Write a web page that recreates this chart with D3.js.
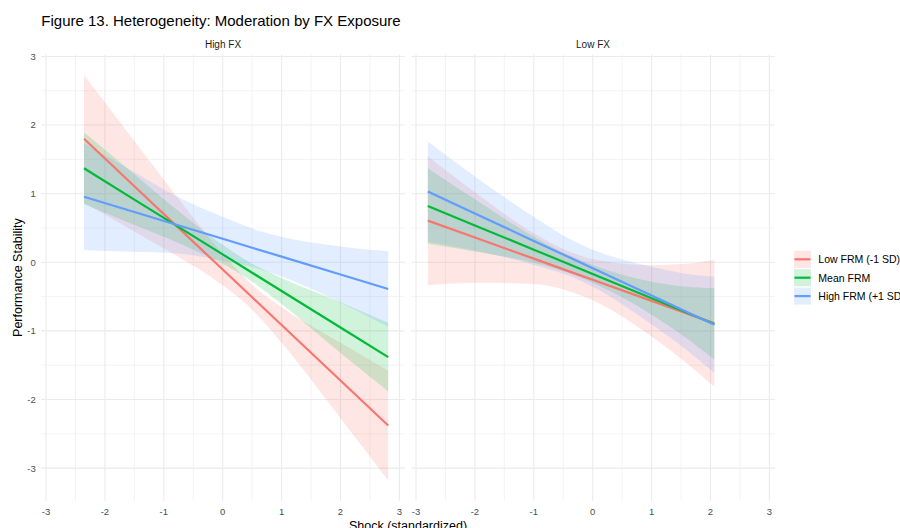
<!DOCTYPE html>
<html lang="en">
<head>
<meta charset="UTF-8">
<title>Figure 13. Heterogeneity</title>
<style>
  body { margin: 0; background: #fff; }
  svg { display: block; font-family: "Liberation Sans", Arial, sans-serif; }
  .tick-label { fill: #4d4d4d; font-size: 9.5px; }
</style>
</head>
<body>
<svg width="900" height="528"></svg>

<script src="https://cdn.jsdelivr.net/npm/d3@7/dist/d3.min.js"></script>
<script>

  // ---- data ----
  var panels = ['High FX', 'Low FX'];
  var groups = ['Low FRM (-1 SD)', 'Mean FRM', 'High FRM (+1 SD)'];
  var groupColors = ['#F8766D', '#00BA38', '#619CFF'];
  var xTicks = [-3, -2, -1, 0, 1, 2, 3];
  var yTicks = [-3, -2, -1, 0, 1, 2, 3];

  // High FX panel
  var highShock = [-2.355, -1.5, -0.8, 0, 0.5, 1, 2, 2.81];
  var highFit = [
    [1.80, 1.108, 0.542, -0.105, -0.51, -0.914, -1.723, -2.38],
    [1.37, 0.914, 0.541, 0.115, -0.152, -0.418, -0.951, -1.383],
    [0.956, 0.733, 0.551, 0.342, 0.212, 0.082, -0.179, -0.39]
  ];
  var highLower = [
    [0.87, 0.448, 0.102, -0.335, -0.69, -1.174, -2.273, -3.18],
    [0.845, 0.544, 0.301, -0.025, -0.282, -0.608, -1.321, -1.883],
    [0.176, 0.153, 0.131, 0.022, -0.068, -0.208, -0.589, -0.94]
  ];
  var highUpper = [
    [2.73, 1.768, 0.982, 0.125, -0.33, -0.654, -1.173, -1.58],
    [1.895, 1.284, 0.781, 0.255, -0.022, -0.228, -0.581, -0.883],
    [1.736, 1.313, 0.971, 0.662, 0.492, 0.372, 0.231, 0.16]
  ];

  // Low FX panel
  var lowShock = [-2.8, -2, -1, -0.4, 0, 1, 1.5, 2.065];
  var lowFit = [
    [0.607, 0.361, 0.053, -0.132, -0.255, -0.562, -0.716, -0.89],
    [0.82, 0.537, 0.184, -0.028, -0.17, -0.523, -0.70, -0.90],
    [1.03, 0.711, 0.312, 0.073, -0.087, -0.485, -0.685, -0.91]
  ];
  var lowLower = [
    [-0.333, -0.299, -0.317, -0.422, -0.555, -1.082, -1.406, -1.815],
    [0.27, 0.157, -0.006, -0.158, -0.30, -0.763, -1.05, -1.42],
    [0.30, 0.171, -0.038, -0.197, -0.357, -0.905, -1.215, -1.61]
  ];
  var lowUpper = [
    [1.547, 1.021, 0.423, 0.158, 0.045, -0.042, -0.026, 0.035],
    [1.37, 0.917, 0.374, 0.102, -0.04, -0.283, -0.35, -0.38],
    [1.76, 1.251, 0.662, 0.343, 0.183, -0.065, -0.155, -0.21]
  ];

  var panelData = [
    {shock: highShock, fit: highFit, lower: highLower, upper: highUpper},
    {shock: lowShock, fit: lowFit, lower: lowLower, upper: lowUpper}
  ];

  // ---- layout ----
  var svg = d3.select('svg');
  var panelTop = 54.4, panelBottom = 500.7;
  var panelLeft = [41.3, 411.3];
  var panelWidth = 363.4;

  var y = d3.scaleLinear().domain([-3.475, 3.03]).range([panelBottom, panelTop]);

  var translate = function(x, y) { return 'translate(' + x + ',' + y + ')'; };
  var halves = function(ticks) {
    return ticks.slice(0, -1).map(function(t) { return t + 0.5; });
  };

  panels.forEach(function(name, p) {
    var x = d3.scaleLinear().domain([-3.08, 3.09]).range([0, panelWidth]);
    var g = svg.append('g').attr('transform', translate(panelLeft[p], 0));
    var d = panelData[p];

    // minor grid
    g.selectAll('.vminor').data(halves(xTicks)).enter().append('line')
      .attr('x1', x).attr('x2', x).attr('y1', panelTop).attr('y2', panelBottom)
      .attr('stroke', '#ebebeb').attr('stroke-width', 0.6);
    g.selectAll('.hminor').data(halves(yTicks)).enter().append('line')
      .attr('x1', 0).attr('x2', panelWidth).attr('y1', y).attr('y2', y)
      .attr('stroke', '#ebebeb').attr('stroke-width', 0.6);
    // major grid
    g.selectAll('.vmajor').data(xTicks).enter().append('line')
      .attr('x1', x).attr('x2', x).attr('y1', panelTop).attr('y2', panelBottom)
      .attr('stroke', '#ebebeb').attr('stroke-width', 1.1);
    g.selectAll('.hmajor').data(yTicks).enter().append('line')
      .attr('x1', 0).attr('x2', panelWidth).attr('y1', y).attr('y2', y)
      .attr('stroke', '#ebebeb').attr('stroke-width', 1.1);

    // ribbons
    groups.forEach(function(grp, k) {
      var area = d3.area()
        .x(function(s, i) { return x(d.shock[i]); })
        .y0(function(s, i) { return y(d.lower[k][i]); })
        .y1(function(s, i) { return y(d.upper[k][i]); })
        .curve(d3.curveMonotoneX);
      g.append('path')
        .datum(d.shock)
        .attr('d', area)
        .attr('fill', groupColors[k])
        .attr('fill-opacity', 0.18);
    });

    // fitted lines
    groups.forEach(function(grp, k) {
      var line = d3.line()
        .x(function(s, i) { return x(d.shock[i]); })
        .y(function(s, i) { return y(d.fit[k][i]); });
      g.append('path')
        .datum(d.shock)
        .attr('d', line)
        .attr('fill', 'none')
        .attr('stroke', groupColors[k])
        .attr('stroke-width', 2.2);
    });

    // x tick labels
    g.selectAll('.xlab').data(xTicks).enter().append('text')
      .attr('class', 'tick-label')
      .attr('x', x).attr('y', 514.5)
      .attr('text-anchor', 'middle')
      .text(function(t) { return String(t); });

    // strip label
    g.append('text')
      .attr('x', panelWidth / 2).attr('y', 47.5)
      .attr('text-anchor', 'middle')
      .attr('font-size', '10px')
      .attr('fill', '#1a1a1a')
      .text(name);
  });

  // y tick labels
  svg.selectAll('.ylab').data(yTicks).enter().append('text')
    .attr('class', 'tick-label')
    .attr('x', 35.8).attr('y', function(t) { return y(t) + 3.4; })
    .attr('text-anchor', 'end')
    .text(function(t) { return String(t); });

  // title and axis titles
  svg.append('text')
    .attr('x', 41.3).attr('y', 25.5)
    .attr('font-size', '15px')
    .attr('fill', '#000')
    .text('Figure 13. Heterogeneity: Moderation by FX Exposure');

  svg.append('text')
    .attr('transform', translate(21.8, (panelTop + panelBottom) / 2) + ' rotate(-90)')
    .attr('text-anchor', 'middle')
    .attr('font-size', '12.5px')
    .attr('fill', '#000')
    .text('Performance Stability');

  svg.append('text')
    .attr('x', (panelLeft[0] + panelLeft[1] + panelWidth) / 2).attr('y', 529.5)
    .attr('text-anchor', 'middle')
    .attr('font-size', '12.5px')
    .attr('fill', '#000')
    .text('Shock (standardized)');

  // legend
  var legend = svg.append('g').attr('transform', translate(794, 259.3));
  groups.forEach(function(grp, k) {
    var row = legend.append('g').attr('transform', translate(0, k * 18.4));
    row.append('rect')
      .attr('x', 0).attr('y', -8.5).attr('width', 17).attr('height', 17)
      .attr('fill', groupColors[k]).attr('fill-opacity', 0.18);
    row.append('line')
      .attr('x1', 0.5).attr('x2', 16.5).attr('y1', 0).attr('y2', 0)
      .attr('stroke', groupColors[k]).attr('stroke-width', 2.2);
    row.append('text')
      .attr('x', 24.3).attr('y', 3.8)
      .attr('font-size', '10.5px')
      .attr('fill', '#000')
      .text(grp);
  });

</script>
</body>
</html>
